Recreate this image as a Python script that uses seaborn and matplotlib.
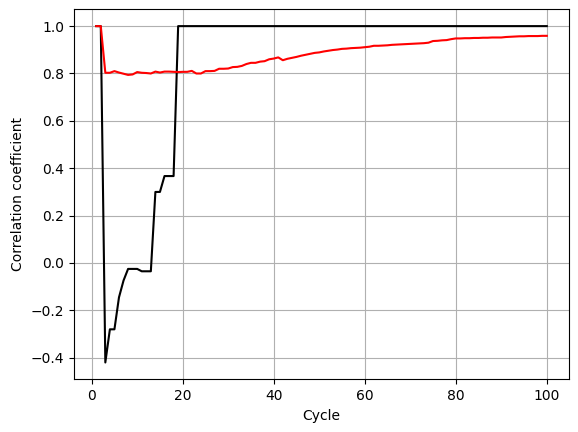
import numpy as np
import pandas as pd
import matplotlib
matplotlib.use("Agg")
import matplotlib.pyplot as plt
import seaborn as sns

cycles = list(range(1, 101))

black_head = [1.0, 1.0, -0.42, -0.28, -0.28, -0.145, -0.074, -0.025, -0.025, -0.025,
              -0.035, -0.035, -0.035, 0.30, 0.30, 0.367, 0.367, 0.367]
black_series = black_head + [1.0] * (100 - len(black_head))

red_series = [1.0, 1.0, 0.803, 0.803, 0.81, 0.804, 0.799, 0.794, 0.796, 0.806,
              0.803, 0.802, 0.800, 0.808, 0.804, 0.808, 0.808, 0.807, 0.806, 0.807,
              0.807, 0.811, 0.800, 0.800, 0.810, 0.810, 0.811, 0.820, 0.820, 0.821,
              0.827, 0.828, 0.832, 0.840, 0.845, 0.845, 0.850, 0.852, 0.860, 0.863,
              0.868, 0.856, 0.862, 0.866, 0.870, 0.875, 0.879, 0.883, 0.887, 0.889,
              0.893, 0.896, 0.899, 0.901, 0.904, 0.905, 0.907, 0.908, 0.909, 0.911,
              0.913, 0.917, 0.917, 0.918, 0.919, 0.921, 0.922, 0.923, 0.924, 0.925,
              0.926, 0.927, 0.928, 0.930, 0.937, 0.938, 0.940, 0.941, 0.945, 0.948,
              0.948, 0.949, 0.949, 0.950, 0.950, 0.951, 0.951, 0.952, 0.952, 0.952,
              0.954, 0.955, 0.956, 0.957, 0.957, 0.958, 0.958, 0.958, 0.959, 0.959]

df = pd.DataFrame({"Cycle": cycles, "black": black_series, "red": red_series})

fig = plt.figure(figsize=(5.78, 4.32), dpi=100)
ax = fig.add_axes([73.7 / 578, (432 - 379.3) / 432, 495.6 / 578, 370 / 432])

sns.lineplot(data=df, x="Cycle", y="black", color="black", ax=ax, linewidth=1.5)
sns.lineplot(data=df, x="Cycle", y="red", color="red", ax=ax, linewidth=1.5)

ax.set_xlabel("Cycle")
ax.set_ylabel("Correlation coefficient")
ax.grid(True)
ax.set_axisbelow(True)

fig.savefig("out.png", dpi=100)
